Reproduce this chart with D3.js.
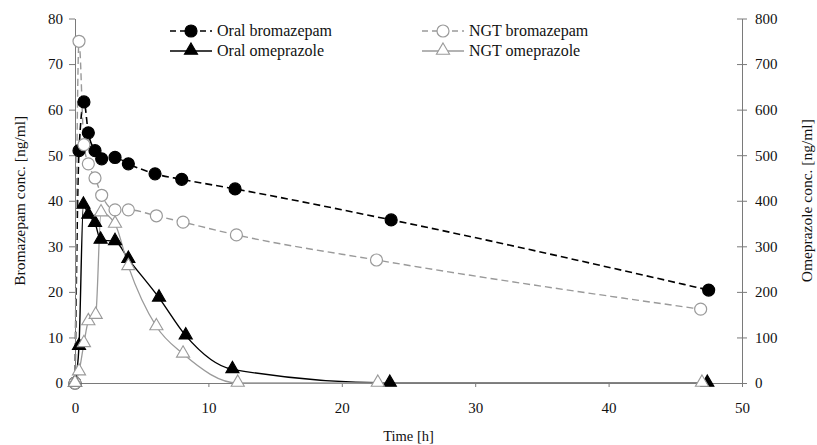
<!DOCTYPE html>
<html><head><meta charset="utf-8">
<script src="https://cdn.jsdelivr.net/npm/d3@7"></script>
<style>
html,body{margin:0;padding:0;background:#fff;}
svg{display:block;font-family:"Liberation Serif","Times New Roman",serif;}
</style></head>
<body>
<svg id="chart" width="817" height="445"></svg>
<script>
// ---- data ----
const oralBromT = [0, 0.3, 0.67, 1, 1.5, 2, 3, 4, 6, 8, 12, 23.7, 47.5];
const oralBromV = [0, 51.0, 61.7, 54.9, 51.0, 49.2, 49.5, 48.1, 45.9, 44.7, 42.6, 35.8, 20.4];
const ngtBromT  = [0, 0.3, 0.67, 1, 1.5, 2, 3, 4, 6.1, 8.1, 12.1, 22.6, 46.9];
const ngtBromV  = [0, 75.0, 52.3, 48.1, 45.0, 41.2, 38.0, 38.0, 36.7, 35.3, 32.5, 27.0, 16.2];
const oralOmepT = [0, 0.3, 0.63, 1, 1.5, 1.92, 3, 4, 6.3, 8.3, 11.8, 23.6, 47.4];
const oralOmepV = [0, 81, 391, 369, 351, 314, 311, 272, 187, 104, 30, 0, 0];
const ngtOmepT  = [0, 0.3, 0.67, 1, 1.55, 1.95, 3, 4, 6.1, 8.1, 12.2, 22.7, 47.0];
const ngtOmepV  = [0, 25, 87, 135, 149, 374, 349, 256, 124, 64, 0, 0, 0];

const xTicks = [0, 10, 20, 30, 40, 50];
const yLeftTicks = [0, 10, 20, 30, 40, 50, 60, 70, 80];
const yRightTicks = [0, 100, 200, 300, 400, 500, 600, 700, 800];

const xTitle = "Time [h]";
const yLeftTitle = "Bromazepam conc. [ng/ml]";
const yRightTitle = "Omeprazole conc. [ng/ml]";

// ---- layout ----
const FONT = '"Liberation Serif","Times New Roman",serif';
const svg = d3.select("#chart");
const L = 75, R = 742, T = 18.5, B = 383;
const x = d3.scaleLinear().domain([0, 50]).range([L, R]);
const yL = d3.scaleLinear().domain([0, 80]).range([B, T]);
const yR = d3.scaleLinear().domain([0, 800]).range([B, T]);
const axisCol = "#7a7a7a";
const fs = 15;

// axes
const gx = svg.append("g").attr("transform", `translate(0,${B})`)
  .call(d3.axisBottom(x).tickValues(xTicks).tickSize(4).tickSizeOuter(0).tickPadding(15));
const gl = svg.append("g").attr("transform", `translate(${L},0)`)
  .call(d3.axisLeft(yL).tickValues(yLeftTicks).tickSize(6).tickSizeOuter(0).tickPadding(6));
const gr = svg.append("g").attr("transform", `translate(${R},0)`)
  .call(d3.axisRight(yR).tickValues(yRightTicks).tickSize(5).tickSizeOuter(0).tickPadding(8));
gr.selectAll(".tick line").attr("x1", -5);
[gx, gl, gr].forEach(g => {
  g.attr("font-family", FONT).attr("font-size", fs);
  g.selectAll("path,line").attr("stroke", axisCol);
  g.selectAll("text").attr("font-size", fs).attr("font-family", FONT).attr("fill", "#111");
});

// titles
svg.append("text").attr("x", (L + R) / 2).attr("y", 441).attr("text-anchor", "middle")
  .attr("font-family", FONT).attr("font-size", 14.5).attr("fill", "#111").text(xTitle);
svg.append("text").attr("transform", `translate(25,${(T + B) / 2}) rotate(-90)`).attr("text-anchor", "middle")
  .attr("font-family", FONT).attr("font-size", 15.5).attr("fill", "#111").text(yLeftTitle);
svg.append("text").attr("transform", `translate(812,${(T + B) / 2}) rotate(-90)`).attr("text-anchor", "middle")
  .attr("font-family", FONT).attr("font-size", 15.5).attr("fill", "#111").text(yRightTitle);

// series
const series = [
  {name: "Oral bromazepam", t: oralBromT, v: oralBromV, y: yL, color: "#000", dash: "7,4", width: 1.6, shape: "circle", fill: "#000"},
  {name: "NGT bromazepam", t: ngtBromT, v: ngtBromV, y: yL, color: "#9a9a9a", dash: "7,4", width: 1.4, shape: "circle", fill: "#fff"},
  {name: "Oral omeprazole", t: oralOmepT, v: oralOmepV, y: yR, color: "#000", dash: null, width: 1.4, shape: "triangle", fill: "#000"},
  {name: "NGT omeprazole", t: ngtOmepT, v: ngtOmepV, y: yR, color: "#9a9a9a", dash: null, width: 1.3, shape: "triangle", fill: "#fff"}
];

function marker(g, s, cx, cy) {
  if (s.shape === "circle") {
    g.append("circle").attr("cx", cx).attr("cy", cy).attr("r", 6)
      .attr("fill", s.fill).attr("stroke", s.color).attr("stroke-width", 1.2);
  } else {
    const p = d3.symbol().type(d3.symbolTriangle).size(75)();
    g.append("path").attr("d", p).attr("transform", `translate(${cx},${cy - 0.5})`)
      .attr("fill", s.fill).attr("stroke", s.color).attr("stroke-width", 1.1);
  }
}

const line = d3.line().curve(d3.curveMonotoneX);
series.forEach(s => {
  const pts = s.t.map((t, i) => [x(t), s.y(s.v[i])]);
  svg.append("path").attr("d", line(pts)).attr("fill", "none")
    .attr("stroke", s.color).attr("stroke-width", s.width)
    .attr("stroke-dasharray", s.dash);
});
series.forEach(s => {
  const g = svg.append("g");
  s.t.forEach((t, i) => marker(g, s, x(t), s.y(s.v[i])));
});

// legend
const legendPos = [
  {lx: 191, ly: 31}, {lx: 443, ly: 31}, {lx: 191, ly: 51}, {lx: 443, ly: 51}
];
series.forEach((s, i) => {
  const p = legendPos[i];
  const g = svg.append("g");
  g.append("line").attr("x1", p.lx - 21).attr("x2", p.lx + 21).attr("y1", p.ly).attr("y2", p.ly)
    .attr("stroke", s.color).attr("stroke-width", s.width).attr("stroke-dasharray", s.dash ? "6,4" : null);
  marker(g, s, p.lx, p.ly);
  g.append("text").attr("x", p.lx + 26).attr("y", p.ly + 5).attr("font-family", FONT).attr("font-size", 16)
    .attr("fill", "#111").text(s.name);
});
</script>
</body></html>
